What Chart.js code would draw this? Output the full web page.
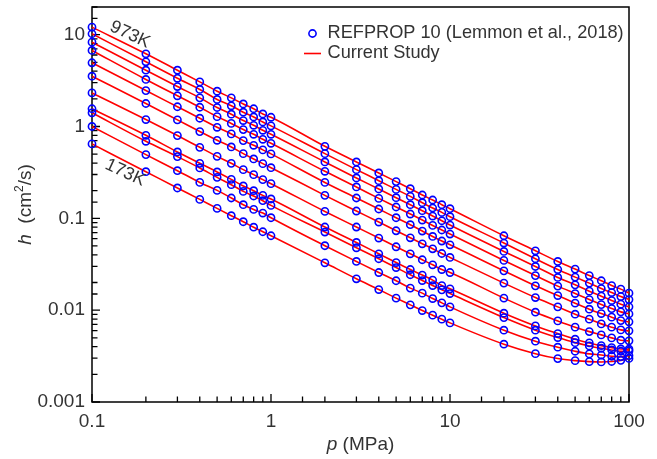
<!DOCTYPE html>
<html><head><meta charset="utf-8">
<script src="https://cdn.jsdelivr.net/npm/chart.js@4.4.1/dist/chart.umd.min.js"></script>
<style>html,body{margin:0;padding:0;background:#fff;}#wrap{width:657px;height:459px;position:relative;}</style>
</head><body><div id="wrap"><canvas id="c"></canvas></div>
<script>
// ---------- data ----------
const pressures = [0.1,0.2,0.3,0.4,0.5,0.6,0.7,0.8,0.9,1,2,3,4,5,6,7,8,9,10,20,30,40,50,60,70,80,90,100];
const xTickLabels = ['0.1','1','10','100'];
const yTickLabels = ['0.001','0.01','0.1','1','10'];
// isotherms from top (973K) to bottom (173K)
const iso11 = [12.07,6.19,4.10,3.06,2.42,2.05,1.76,1.56,1.37,1.26,0.608,0.411,0.312,0.251,0.210,0.1795,0.1583,0.1407,0.1273,0.0646,0.0443,0.0339,0.0280,0.0238,0.0209,0.01854,0.01694,0.01532];
const iso10 = [10.23,5.06,3.35,2.53,1.97,1.68,1.43,1.27,1.12,1.015,0.506,0.339,0.257,0.2066,0.1733,0.148,0.1295,0.116,0.1041,0.0538,0.0363,0.0277,0.0229,0.0197,0.0172,0.01555,0.01407,0.01305];
const iso9  = [8.28,4.10,2.72,2.05,1.61,1.36,1.16,1.03,0.909,0.822,0.411,0.275,0.2087,0.1677,0.1407,0.121,0.1059,0.0941,0.0845,0.0436,0.0299,0.0227,0.01887,0.01611,0.01421,0.01273,0.01162,0.01086];
const iso8  = [6.73,3.25,2.16,1.62,1.28,1.08,0.925,0.822,0.725,0.656,0.325,0.2195,0.1648,0.1328,0.1114,0.0958,0.0837,0.0746,0.0674,0.0348,0.0238,0.01827,0.01517,0.01305,0.0115,0.0104,0.00958,0.00911];
const iso7  = [4.94,2.46,1.64,1.23,0.98,0.83,0.702,0.624,0.556,0.503,0.246,0.1665,0.1263,0.1015,0.0852,0.0727,0.0635,0.0566,0.0515,0.0268,0.0184,0.01443,0.01192,0.01025,0.00918,0.00839,0.0077,0.00746];
const iso6  = [3.53,1.78,1.18,0.88,0.707,0.599,0.506,0.443,0.394,0.356,0.1778,0.1201,0.0911,0.0732,0.0614,0.0528,0.0466,0.0414,0.0375,0.0197,0.01372,0.01086,0.00904,0.00798,0.00709,0.00653,0.0061,0.00595];
const iso5  = [2.32,1.19,0.796,0.593,0.473,0.397,0.339,0.299,0.2636,0.2384,0.1189,0.0804,0.061,0.049,0.0411,0.0354,0.0312,0.0277,0.0257,0.01352,0.0095,0.00764,0.00653,0.00584,0.00538,0.00499,0.00471,0.00463];
const iso4  = [1.56,0.802,0.528,0.397,0.32,0.2656,0.225,0.2,0.1778,0.1624,0.0804,0.0546,0.0411,0.033,0.0277,0.0241,0.02125,0.01854,0.01707,0.00927,0.00674,0.00556,0.00483,0.0044,0.00411,0.00391,0.00378,0.00376];
const iso3  = [1.41,0.69,0.47,0.3536,0.2793,0.2325,0.1965,0.175,0.1555,0.1382,0.0709,0.0478,0.0363,0.0291,0.0243,0.021,0.01854,0.01665,0.01517,0.0083,0.00605,0.00503,0.00443,0.00408,0.00385,0.00369,0.00357,0.0036];
const iso2  = [1.0,0.494,0.33,0.246,0.2014,0.1665,0.1407,0.125,0.1142,0.1015,0.0503,0.0339,0.0257,0.0209,0.01738,0.01532,0.01338,0.01201,0.01086,0.00605,0.00459,0.00395,0.00357,0.00334,0.00325,0.00315,0.00312,0.0032];
const iso1  = [0.646,0.322,0.214,0.1608,0.1282,0.1068,0.0918,0.08,0.0714,0.0646,0.0328,0.02195,0.01677,0.01352,0.01142,0.0099,0.00882,0.00798,0.00727,0.00426,0.00336,0.00297,0.00282,0.00275,0.00273,0.00276,0.00284,0.00298];
const isotherms = [iso1,iso2,iso3,iso4,iso5,iso6,iso7,iso8,iso9,iso10,iso11];
const legendLabels = ['REFPROP 10 (Lemmon et al., 2018)','Current Study'];
const curveLabels = [{text:'973K', p:0.163, h:10.0},{text:'173K', p:0.153, h:0.314}];

// ---------- chart ----------
const FAM = '"Liberation Sans", Arial, Helvetica, sans-serif';
const TXT = '#333333';
const isDec = v => Math.abs(Math.log10(v) - Math.round(Math.log10(v))) < 1e-6;
const fmt = v => { const e = Math.round(Math.log10(v)); return e >= 0 ? String(Math.pow(10,e)) : Math.pow(10,e).toFixed(-e); };

const datasets = [];
isotherms.forEach((arr,k) => {
  datasets.push({label:'model'+k, data: pressures.map((p,i)=>({x:p,y:arr[i]})), showLine:true,
    borderColor:'#ff0000', borderWidth:1.6, pointRadius:0, cubicInterpolationMode:'monotone', order:2, clip:false});
});
isotherms.forEach((arr,k) => {
  datasets.push({label:'ref'+k, data: pressures.map((p,i)=>({x:p,y:arr[i]})), showLine:false,
    pointStyle:'circle', pointRadius:3.6, pointBorderWidth:1.6, pointBorderColor:'#0000ff',
    pointBackgroundColor:'rgba(0,0,0,0)', borderColor:'#0000ff', order:1, clip:false});
});

function runs(ctx, parts, x, y) {
  let w = 0;
  parts.forEach(p => { ctx.font = p.f; w += ctx.measureText(p.t).width; });
  let cx = x - w/2;
  parts.forEach(p => { ctx.font = p.f; ctx.fillText(p.t, cx, y + (p.dy||0)); cx += ctx.measureText(p.t).width; });
}

const decor = {
  id:'decor',
  beforeDatasetsDraw(chart){
    const {ctx, chartArea:a, scales:{x,y}} = chart;
    ctx.save();
    ctx.strokeStyle = '#000';
    ctx.lineWidth = 1.5;
    ctx.strokeRect(a.left, a.top, a.right-a.left, a.bottom-a.top);
    ctx.lineWidth = 1.3;
    ctx.beginPath();
    y.ticks.forEach(t => { const v=t.value; if (v < y.min*0.999 || v > y.max*1.001) return;
      const py = y.getPixelForValue(v); const L = isDec(v) ? 8 : 5.5;
      ctx.moveTo(a.left, py); ctx.lineTo(a.left+L, py); });
    x.ticks.forEach(t => { const v=t.value; if (v < x.min*0.999 || v > x.max*1.001) return;
      const px = x.getPixelForValue(v); const L = isDec(v) ? 8 : 5.5;
      ctx.moveTo(px, a.bottom); ctx.lineTo(px, a.bottom-L); });
    ctx.stroke();
    ctx.restore();
  },
  afterDraw(chart){
    const {ctx, chartArea:a, scales:{x,y}} = chart;
    ctx.save();
    ctx.fillStyle = TXT;
    ctx.textBaseline = 'middle';
    ctx.textAlign = 'left';
    // x title
    runs(ctx, [{t:'p', f:'italic 19px '+FAM},{t:' (MPa)', f:'19px '+FAM}], (a.left+a.right)/2, 445);
    // y title
    ctx.save();
    ctx.translate(26, (a.top+a.bottom)/2);
    ctx.rotate(-Math.PI/2);
    runs(ctx, [{t:'h', f:'italic 19px '+FAM},{t:'  (cm', f:'19px '+FAM},{t:'2', f:'12px '+FAM, dy:-6},{t:'/s)', f:'19px '+FAM}], 0, 0);
    ctx.restore();
    // legend
    ctx.font = '18.2px '+FAM;
    ctx.beginPath(); ctx.arc(312.5, 33.5, 3.6, 0, Math.PI*2);
    ctx.strokeStyle = '#0000ff'; ctx.lineWidth = 1.6; ctx.stroke();
    ctx.fillText(legendLabels[0], 327.5, 33);
    ctx.beginPath(); ctx.moveTo(304, 53.5); ctx.lineTo(321, 53.5);
    ctx.strokeStyle = '#ff0000'; ctx.lineWidth = 1.6; ctx.stroke();
    ctx.fillText(legendLabels[1], 327.5, 53);
    // curve labels
    const ang = Math.atan2(y.getPixelForValue(0.1)-y.getPixelForValue(1), x.getPixelForValue(1)-x.getPixelForValue(0.1)) * 0.92;
    ctx.font = '18px '+FAM;
    ctx.textAlign = 'center';
    curveLabels.forEach(c => {
      ctx.save();
      ctx.translate(x.getPixelForValue(c.p), y.getPixelForValue(c.h));
      ctx.rotate(ang);
      ctx.fillText(c.text, 0, 0);
      ctx.restore();
    });
    ctx.restore();
  }
};

const tickCb = function(v){ return isDec(v) ? fmt(v) : ''; };

new Chart(document.getElementById('c'), {
  type:'scatter',
  data:{datasets},
  options:{
    responsive:true, maintainAspectRatio:false, animation:false,
    layout:{padding:{top:7, right:28, left:0, bottom:0}},
    plugins:{legend:{display:false}, tooltip:{enabled:false}},
    scales:{
      x:{type:'logarithmic', min:0.1, max:100,
        grid:{display:false, drawTicks:false}, border:{display:false},
        ticks:{autoSkip:false, maxRotation:0, padding:8, color:TXT, font:{family:FAM, size:19},
          callback: tickCb},
        afterFit(s){ s.height = 57; s.paddingLeft = 0; s.paddingRight = 0; }},
      y:{type:'logarithmic', min:0.001, max:20,
        grid:{display:false, drawTicks:false}, border:{display:false},
        ticks:{autoSkip:false, padding:7, color:TXT, font:{family:FAM, size:19},
          callback: tickCb},
        afterFit(s){ s.width = 92; s.paddingTop = 0; s.paddingBottom = 0; }}
    }
  },
  plugins:[decor]
});
</script></body></html>
